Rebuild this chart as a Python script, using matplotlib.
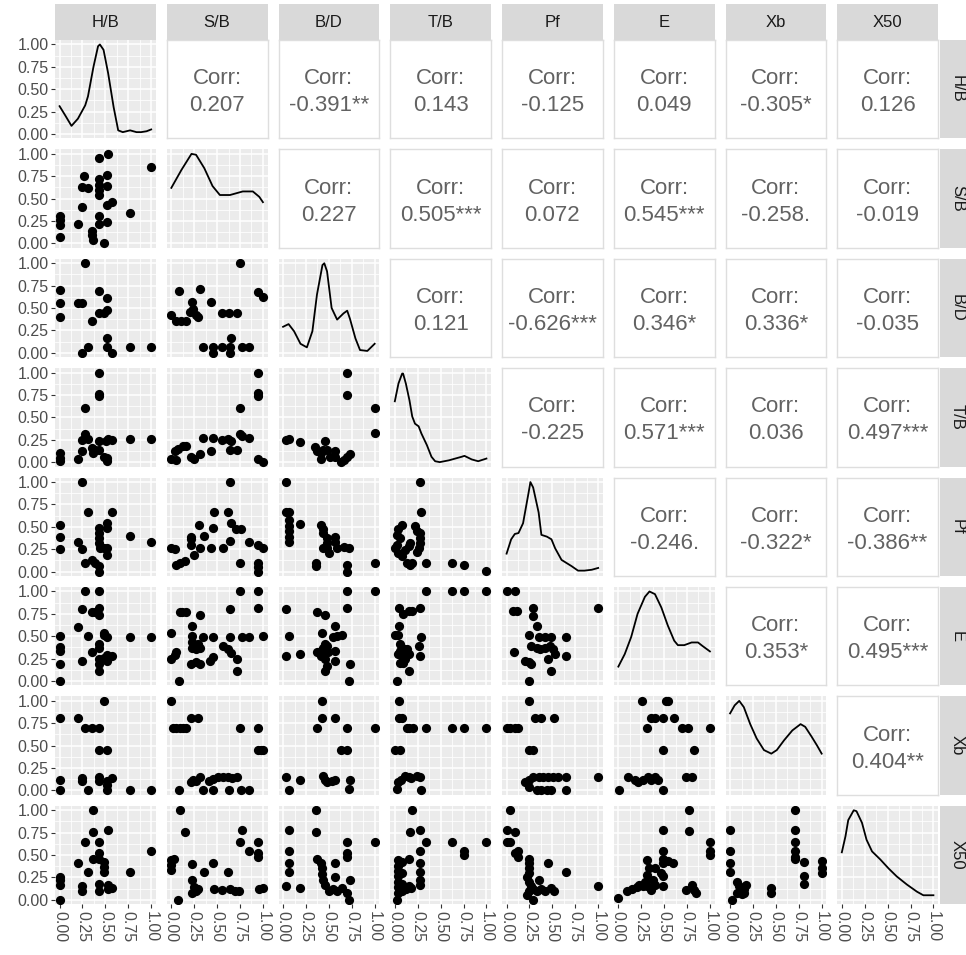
import numpy as np
import matplotlib.pyplot as plt
from matplotlib.ticker import FixedLocator

plt.rcParams['font.family'] = ['Liberation Sans', 'DejaVu Sans']

varNames = ["H/B", "S/B", "B/D", "T/B", "Pf", "E", "Xb", "X50"]
tickVals = [0.0, 0.25, 0.5, 0.75, 1.0]
tickLabels = ["0.00", "0.25", "0.50", "0.75", "1.00"]

# correlation labels, upper triangle, one list per row
corrRow0 = ["0.207", "-0.391**", "0.143", "-0.125", "0.049", "-0.305*", "0.126"]
corrRow1 = ["0.227", "0.505***", "0.072", "0.545***", "-0.258.", "-0.019"]
corrRow2 = ["0.121", "-0.626***", "0.346*", "0.336*", "-0.035"]
corrRow3 = ["-0.225", "0.571***", "0.036", "0.497***"]
corrRow4 = ["-0.246.", "-0.322*", "-0.386**"]
corrRow5 = ["0.353*", "0.495***"]
corrRow6 = ["0.404**"]

# density curves (x, scaled density)
dHB = [(0.0,0.31),(0.06,0.21),(0.13,0.09),(0.20,0.17),(0.28,0.32),(0.31,0.42),(0.37,0.75),(0.42,0.98),(0.44,1.0),
       (0.48,0.94),(0.53,0.68),(0.59,0.30),(0.64,0.04),(0.69,0.02),(0.77,0.04),(0.84,0.02),(0.89,0.02),(0.95,0.03),(1.0,0.05)]
dSB = [(0.0,0.62),(0.11,0.82),(0.22,1.0),(0.27,0.99),(0.36,0.84),(0.45,0.64),(0.53,0.54),(0.64,0.54),(0.78,0.58),
       (0.89,0.58),(0.96,0.52),(1.0,0.46)]
dBD = [(0.0,0.29),(0.06,0.32),(0.12,0.24),(0.19,0.10),(0.26,0.06),(0.32,0.24),(0.37,0.65),(0.43,0.98),(0.45,1.0),
       (0.48,0.91),(0.53,0.50),(0.59,0.37),(0.66,0.44),(0.70,0.47),(0.73,0.38),(0.79,0.16),(0.84,0.03),(0.92,0.02),
       (0.97,0.07),(1.0,0.10)]
dTB = [(0.0,0.68),(0.04,0.88),(0.08,0.99),(0.09,0.99),(0.12,0.88),(0.16,0.69),(0.19,0.51),(0.22,0.43),(0.26,0.40),
       (0.29,0.32),(0.35,0.19),(0.40,0.06),(0.44,0.01),(0.49,0.0),(0.59,0.02),(0.73,0.06),(0.76,0.07),(0.84,0.03),
       (0.91,0.01),(1.0,0.04)]
dPf = [(0.0,0.20),(0.05,0.36),(0.09,0.42),(0.13,0.43),(0.18,0.54),(0.24,0.88),(0.26,1.0),(0.29,0.94),(0.35,0.66),
       (0.38,0.41),(0.44,0.39),(0.49,0.36),(0.53,0.26),(0.60,0.13),(0.71,0.06),(0.78,0.01),(0.85,0.01),(0.93,0.02),(1.0,0.04)]
dE = [(0.0,0.16),(0.07,0.30),(0.14,0.49),(0.21,0.75),(0.29,0.94),(0.34,1.0),(0.40,0.97),(0.47,0.82),(0.54,0.62),
      (0.61,0.45),(0.65,0.40),(0.72,0.40),(0.80,0.43),(0.87,0.43),(0.92,0.39),(1.0,0.33)]
dXb = [(0.0,0.86),(0.05,0.95),(0.10,1.0),(0.15,0.93),(0.22,0.74),(0.29,0.58),(0.37,0.45),(0.45,0.41),(0.51,0.45),
       (0.59,0.56),(0.68,0.67),(0.77,0.74),(0.82,0.71),(0.89,0.60),(0.95,0.50),(1.0,0.41)]
dX50 = [(0.0,0.53),(0.04,0.71),(0.07,0.89),(0.13,1.0),(0.16,0.99),(0.22,0.86),(0.27,0.67),(0.33,0.54),(0.42,0.45),
        (0.51,0.35),(0.60,0.26),(0.71,0.17),(0.82,0.09),(0.89,0.05),(1.0,0.05)]

# scatter points (x = column variable, y = row variable)
pSB_HB = [(0.53,1.0),(0.43,0.95),(1.0,0.85),(0.27,0.75),(0.43,0.72),(0.52,0.76),(0.24,0.63),(0.31,0.62),(0.43,0.65),
          (0.43,0.60),(0.43,0.54),(0.52,0.64),(0.57,0.46),(0.52,0.43),(0.24,0.41),(0.77,0.34),(0.01,0.31),(0.01,0.26),
          (0.01,0.21),(0.20,0.22),(0.43,0.31),(0.43,0.22),(0.52,0.24),(0.35,0.14),(0.35,0.09),(0.36,0.04),(0.01,0.07),(0.49,0.0)]
pBD_HB = [(0.28,1.0),(0.01,0.70),(0.01,0.56),(0.01,0.40),(0.20,0.56),(0.24,0.56),(0.43,0.69),(0.52,0.61),(0.52,0.48),
          (0.48,0.44),(0.35,0.36),(0.43,0.44),(0.52,0.17),(0.24,0.0),(0.31,0.06),(0.52,0.06),(0.57,0.0),(0.77,0.06),(1.0,0.06)]
pBD_SB = [(0.75,1.0),(0.08,0.69),(0.31,0.71),(0.23,0.57),(0.43,0.57),(0.0,0.42),(0.05,0.36),(0.11,0.36),(0.16,0.36),
          (0.20,0.46),(0.24,0.49),(0.27,0.42),(0.29,0.40),(0.55,0.44),(0.63,0.44),(0.72,0.44),(0.95,0.68),(1.0,0.62),
          (0.35,0.06),(0.45,0.06),(0.46,0.0),(0.55,0.06),(0.64,0.06),(0.64,0.0),(0.65,0.17),(0.77,0.06),(0.85,0.06)]
pTB_HB = [(0.43,1.0),(0.43,0.76),(0.43,0.74),(0.28,0.61),(0.28,0.32),(0.24,0.25),(0.31,0.26),(0.43,0.24),(0.53,0.26),
          (0.57,0.25),(0.51,0.24),(0.77,0.26),(1.0,0.26),(0.24,0.12),(0.35,0.16),(0.39,0.13),(0.37,0.10),(0.43,0.13),
          (0.48,0.06),(0.52,0.01),(0.52,0.05),(0.20,0.04),(0.01,0.10),(0.01,0.05),(0.01,0.01)]
pTB_SB = [(0.95,1.0),(0.95,0.77),(0.95,0.74),(0.75,0.61),(0.0,0.04),(0.05,0.02),(0.04,0.12),(0.07,0.15),(0.13,0.18),
          (0.16,0.18),(0.22,0.06),(0.25,0.04),(0.31,0.09),(0.43,0.12),(0.35,0.27),(0.46,0.27),(0.55,0.25),(0.62,0.26),
          (0.65,0.24),(0.64,0.14),(0.72,0.14),(0.75,0.32),(0.77,0.29),(0.85,0.27),(0.95,0.04),(1.0,0.0)]
pTB_BD = [(0.70,1.0),(0.70,0.75),(1.0,0.61),(1.0,0.33),(0.03,0.25),(0.07,0.26),(0.19,0.22),(0.35,0.17),(0.37,0.12),
          (0.41,0.10),(0.41,0.04),(0.46,0.24),(0.44,0.13),(0.48,0.13),(0.51,0.06),(0.57,0.12),(0.57,0.06),(0.63,0.0),
          (0.66,0.02),(0.70,0.06),(0.73,0.09)]
pPf_HB = [(0.24,1.0),(0.31,0.66),(0.57,0.66),(0.52,0.54),(0.52,0.49),(0.43,0.49),(0.43,0.43),(0.43,0.37),(0.43,0.32),
          (0.44,0.26),(0.01,0.52),(0.01,0.39),(0.01,0.25),(0.20,0.33),(0.24,0.25),(0.77,0.40),(1.0,0.33),(0.48,0.26),
          (0.52,0.26),(0.52,0.19),(0.28,0.09),(0.35,0.13),(0.39,0.09),(0.43,0.06),(0.43,0.0)]
pPf_SB = [(0.64,1.0),(0.47,0.66),(0.62,0.66),(0.65,0.54),(0.71,0.48),(0.76,0.47),(0.30,0.52),(0.45,0.49),(0.36,0.40),
          (0.22,0.39),(0.22,0.36),(0.22,0.30),(0.25,0.19),(0.0,0.26),(0.04,0.25),(0.05,0.07),(0.09,0.09),(0.15,0.12),
          (0.31,0.26),(0.43,0.26),(0.56,0.26),(0.64,0.34),(0.85,0.33),(0.75,0.09),(0.95,0.30),(1.0,0.26),(0.95,0.09),
          (0.95,0.05),(0.95,0.0)]
pPf_BD = [(0.03,1.0),(0.03,0.66),(0.06,0.66),(0.06,0.58),(0.06,0.51),(0.06,0.45),(0.06,0.39),(0.06,0.33),(0.19,0.53),
          (0.41,0.52),(0.44,0.48),(0.44,0.43),(0.48,0.37),(0.48,0.32),(0.48,0.26),(0.57,0.39),(0.57,0.33),(0.44,0.26),
          (0.50,0.21),(0.59,0.26),(0.66,0.27),(0.72,0.26),(0.36,0.09),(0.36,0.06),(0.70,0.07),(0.70,0.0),(1.0,0.09)]
pPf_TB = [(0.27,1.0),(0.29,0.66),(0.08,0.52),(0.04,0.47),(0.02,0.41),(0.06,0.37),(0.02,0.30),(0.0,0.26),(0.04,0.21),
          (0.08,0.17),(0.11,0.24),(0.15,0.28),(0.17,0.32),(0.22,0.51),(0.24,0.45),(0.28,0.43),(0.28,0.37),(0.28,0.32),
          (0.26,0.26),(0.24,0.22),(0.13,0.09),(0.17,0.07),(0.19,0.10),(0.34,0.09),(0.62,0.09),(0.76,0.07),(1.0,0.01)]
pE_HB = [(0.28,1.0),(0.43,1.0),(0.24,0.80),(0.35,0.77),(0.39,0.77),(0.43,0.82),(0.43,0.74),(0.20,0.60),(0.31,0.50),
         (0.48,0.54),(0.49,0.51),(0.52,0.49),(0.01,0.50),(0.01,0.38),(0.01,0.34),(0.77,0.49),(1.0,0.49),(0.43,0.41),
         (0.43,0.37),(0.35,0.32),(0.24,0.22),(0.43,0.25),(0.48,0.26),(0.52,0.29),(0.57,0.28),(0.52,0.22),(0.43,0.19),
         (0.43,0.11),(0.01,0.19),(0.01,0.0)]
pE_SB = [(0.75,1.0),(0.95,1.0),(0.95,0.82),(0.64,0.80),(0.09,0.77),(0.12,0.77),(0.16,0.77),(0.31,0.74),(0.23,0.61),
         (0.0,0.54),(0.23,0.50),(0.23,0.43),(0.23,0.37),(0.27,0.36),(0.29,0.41),(0.31,0.37),(0.35,0.49),(0.45,0.49),
         (0.64,0.49),(0.77,0.49),(0.85,0.49),(1.0,0.50),(0.56,0.39),(0.62,0.36),(0.65,0.31),(0.72,0.24),(0.45,0.27),
         (0.42,0.22),(0.05,0.32),(0.04,0.29),(0.0,0.25),(0.22,0.19),(0.27,0.21),(0.31,0.19),(0.72,0.11),(0.08,0.0)]
pE_BD = [(0.70,1.0),(1.0,1.0),(0.70,0.82),(0.03,0.80),(0.37,0.77),(0.46,0.74),(0.57,0.61),(0.43,0.54),(0.55,0.49),
         (0.59,0.50),(0.64,0.51),(0.07,0.50),(0.46,0.41),(0.44,0.37),(0.48,0.39),(0.41,0.34),(0.44,0.31),(0.49,0.32),
         (0.57,0.34),(0.03,0.28),(0.19,0.30),(0.37,0.32),(0.41,0.28),(0.46,0.24),(0.48,0.17),(0.46,0.11),(0.57,0.22),
         (0.73,0.19),(0.72,0.0)]
pE_TB = [(0.34,1.0),(0.62,1.0),(0.76,1.0),(1.0,1.0),(0.05,0.82),(0.09,0.75),(0.15,0.78),(0.19,0.78),(0.27,0.82),
         (0.05,0.61),(0.0,0.51),(0.04,0.51),(0.29,0.49),(0.06,0.41),(0.08,0.37),(0.10,0.36),(0.06,0.34),(0.04,0.30),
         (0.08,0.28),(0.11,0.32),(0.13,0.36),(0.15,0.30),(0.11,0.24),(0.09,0.20),(0.06,0.20),(0.15,0.11),(0.26,0.39),
         (0.28,0.28),(0.02,0.0)]
pE_Pf = [(0.0,1.0),(0.09,1.0),(0.07,0.78),(0.11,0.78),(0.29,0.82),(0.29,0.73),(0.33,0.61),(1.0,0.81),(0.25,0.51),
         (0.35,0.49),(0.42,0.49),(0.49,0.49),(0.65,0.49),(0.27,0.39),(0.33,0.37),(0.36,0.36),(0.42,0.37),(0.47,0.39),
         (0.51,0.36),(0.53,0.30),(0.08,0.32),(0.65,0.28),(0.20,0.22),(0.24,0.21),(0.27,0.19),(0.45,0.24),(0.49,0.11),(0.25,0.0)]
pXb_HB = [(0.49,1.0),(0.01,0.81),(0.20,0.81),(0.28,0.70),(0.35,0.70),(0.43,0.70),(0.43,0.45),(0.52,0.45),(0.01,0.12),
          (0.01,0.0),(0.24,0.14),(0.24,0.10),(0.31,0.0),(0.43,0.15),(0.43,0.10),(0.52,0.10),(0.57,0.14),(0.52,0.06),
          (0.52,0.0),(0.77,0.0),(1.0,0.0)]
pXb_SB = [(0.0,1.0),(0.22,0.81),(0.29,0.81),(0.02,0.70),(0.05,0.70),(0.09,0.70),(0.13,0.70),(0.16,0.70),(0.75,0.70),
          (0.95,0.70),(0.95,0.45),(0.98,0.45),(1.0,0.45),(0.08,0.0),(0.22,0.09),(0.24,0.12),(0.27,0.10),(0.31,0.15),
          (0.35,0.0),(0.45,0.0),(0.41,0.10),(0.45,0.13),(0.51,0.15),(0.56,0.15),(0.62,0.15),(0.66,0.14),(0.72,0.15),
          (0.63,0.0),(0.76,0.0),(0.85,0.0)]
pXb_BD = [(0.43,1.0),(0.43,0.81),(0.57,0.81),(0.37,0.70),(0.70,0.70),(1.0,0.70),(0.63,0.45),(0.70,0.45),(0.03,0.15),
          (0.19,0.11),(0.07,0.0),(0.44,0.16),(0.46,0.12),(0.48,0.09),(0.53,0.10),(0.57,0.12),(0.73,0.11),(0.72,0.01)]
pXb_TB = [(0.05,1.0),(0.05,0.81),(0.08,0.81),(0.13,0.70),(0.15,0.70),(0.20,0.70),(0.34,0.70),(0.62,0.70),(0.76,0.70),
          (1.0,0.70),(0.0,0.45),(0.06,0.45),(0.02,0.01),(0.04,0.09),(0.07,0.12),(0.11,0.16),(0.15,0.15),(0.18,0.14),
          (0.24,0.16),(0.27,0.15),(0.29,0.0)]
pXb_Pf = [(0.25,1.0),(0.31,0.81),(0.38,0.81),(0.52,0.81),(0.0,0.70),(0.04,0.70),(0.09,0.70),(0.13,0.70),(0.24,0.45),
          (0.29,0.45),(0.65,0.15),(1.0,0.15),(0.20,0.09),(0.24,0.12),(0.29,0.15),(0.35,0.15),(0.40,0.15),(0.45,0.15),
          (0.51,0.15),(0.56,0.15),(0.25,0.04),(0.33,0.0),(0.38,0.0),(0.44,0.0),(0.49,0.0),(0.65,0.0)]
pXb_E = [(0.26,1.0),(0.52,1.0),(0.54,1.0),(0.36,0.81),(0.40,0.81),(0.49,0.81),(0.61,0.81),(0.31,0.70),(0.69,0.70),
         (0.76,0.70),(1.0,0.70),(0.49,0.45),(0.83,0.45),(0.01,0.0),(0.11,0.15),(0.18,0.12),(0.22,0.09),(0.27,0.12),
         (0.32,0.15),(0.36,0.12),(0.40,0.15),(0.43,0.12),(0.49,0.0),(0.74,0.15),(0.80,0.15)]
pX50_HB = [(0.36,1.0),(0.36,0.76),(0.53,0.78),(0.28,0.65),(0.43,0.65),(0.43,0.52),(0.36,0.46),(0.43,0.46),(0.49,0.42),
           (0.49,0.37),(0.49,0.31),(1.0,0.55),(0.20,0.41),(0.31,0.31),(0.77,0.31),(0.01,0.25),(0.01,0.22),(0.01,0.16),
           (0.24,0.15),(0.24,0.10),(0.43,0.18),(0.43,0.10),(0.53,0.16),(0.53,0.12),(0.57,0.13),(0.01,0.0)]
pX50_SB = [(0.10,1.0),(0.15,0.76),(0.77,0.78),(0.75,0.65),(0.95,0.65),(0.85,0.55),(0.95,0.52),(0.95,0.48),(0.0,0.44),
           (0.0,0.39),(0.0,0.33),(0.03,0.46),(0.23,0.40),(0.45,0.41),(0.36,0.31),(0.62,0.31),(0.23,0.22),(0.25,0.14),
           (0.27,0.10),(0.23,0.07),(0.29,0.12),(0.07,0.0),(0.47,0.12),(0.55,0.11),(0.64,0.12),(0.69,0.10),(0.74,0.10),
           (0.96,0.12),(1.0,0.13)]
pX50_BD = [(0.36,1.0),(0.06,0.78),(0.36,0.76),(0.70,0.65),(1.0,0.65),(0.06,0.55),(0.06,0.41),(0.06,0.31),(0.70,0.52),
           (0.70,0.48),(0.03,0.15),(0.19,0.13),(0.37,0.46),(0.41,0.41),(0.43,0.35),(0.43,0.29),(0.44,0.22),(0.46,0.16),
           (0.50,0.10),(0.55,0.12),(0.59,0.10),(0.64,0.13),(0.70,0.07),(0.72,0.0),(0.57,0.41),(0.57,0.25),(0.73,0.22)]
pX50_TB = [(0.19,1.0),(0.17,0.76),(0.28,0.78),(0.34,0.65),(0.62,0.65),(1.0,0.65),(0.76,0.55),(0.76,0.50),(0.28,0.54),
           (0.28,0.41),(0.28,0.31),(0.28,0.22),(0.27,0.16),(0.15,0.46),(0.04,0.44),(0.04,0.38),(0.04,0.32),(0.04,0.26),
           (0.04,0.20),(0.04,0.14),(0.04,0.08),(0.08,0.42),(0.08,0.30),(0.08,0.18),(0.08,0.10),(0.12,0.12),(0.15,0.15),
           (0.18,0.13),(0.02,0.0)]
pX50_Pf = [(0.04,1.0),(0.0,0.78),(0.09,0.76),(0.0,0.65),(0.04,0.65),(0.13,0.55),(0.09,0.52),(0.13,0.48),(0.25,0.46),
           (0.25,0.41),(0.24,0.35),(0.25,0.30),(0.22,0.25),(0.24,0.20),(0.27,0.15),(0.25,0.10),(0.22,0.05),(0.29,0.12),
           (0.33,0.10),(0.38,0.12),(0.42,0.10),(0.49,0.13),(0.52,0.10),(0.65,0.31),(0.45,0.41),(0.35,0.22),(1.0,0.15),(0.29,0.0)]
pX50_E = [(0.77,1.0),(0.77,0.77),(0.49,0.78),(1.0,0.65),(1.0,0.54),(1.0,0.50),(0.49,0.54),(0.49,0.46),(0.49,0.41),
          (0.54,0.43),(0.60,0.41),(0.47,0.30),(0.49,0.26),(0.49,0.15),(0.31,0.44),(0.34,0.35),(0.40,0.35),(0.31,0.28),
          (0.29,0.20),(0.38,0.22),(0.40,0.17),(0.31,0.15),(0.36,0.11),(0.27,0.15),(0.23,0.16),(0.74,0.11),(0.80,0.16),
          (0.83,0.11),(0.85,0.07),(0.0,0.02),(0.10,0.10),(0.15,0.12),(0.20,0.14)]
pX50_Xb = [(0.0,0.78),(0.0,0.54),(0.0,0.41),(0.0,0.31),(0.02,0.0),(0.08,0.20),(0.10,0.15),(0.12,0.10),(0.13,0.06),
           (0.15,0.12),(0.17,0.16),(0.08,0.07),(0.15,0.08),(0.45,0.13),(0.45,0.08),(0.71,1.0),(0.71,0.78),(0.71,0.65),
           (0.71,0.54),(0.71,0.48),(0.71,0.45),(0.81,0.42),(0.81,0.26),(0.81,0.18),(1.0,0.43),(1.0,0.35),(1.0,0.30)]


densities = [dHB, dSB, dBD, dTB, dPf, dE, dXb, dX50]
corrRows = [corrRow0, corrRow1, corrRow2, corrRow3, corrRow4, corrRow5, corrRow6]
scatterPts = {
  (1,0): pSB_HB,
  (2,0): pBD_HB, (2,1): pBD_SB,
  (3,0): pTB_HB, (3,1): pTB_SB, (3,2): pTB_BD,
  (4,0): pPf_HB, (4,1): pPf_SB, (4,2): pPf_BD, (4,3): pPf_TB,
  (5,0): pE_HB, (5,1): pE_SB, (5,2): pE_BD, (5,3): pE_TB, (5,4): pE_Pf,
  (6,0): pXb_HB, (6,1): pXb_SB, (6,2): pXb_BD, (6,3): pXb_TB, (6,4): pXb_Pf, (6,5): pXb_E,
  (7,0): pX50_HB, (7,1): pX50_SB, (7,2): pX50_BD, (7,3): pX50_TB, (7,4): pX50_Pf, (7,5): pX50_E, (7,6): pX50_Xb,
}

W, H = 966, 955
panelLeft, panelTop = 55, 40
panelW, panelH = 100.75, 98.4
stepX, stepY = 111.75, 109.4

fig = plt.figure(figsize=(W/100, H/100), dpi=100)
fig.set_facecolor('white')


def pxAxes(left, top, width, height):
  return fig.add_axes([left/W, 1-(top+height)/H, width/W, height/H])


def greyPanel(ax, r, c):
  ax.set_facecolor('#EBEBEB')
  for s in ax.spines.values():
    s.set_visible(False)
  ax.set_xlim(-0.05, 1.05)
  ax.set_ylim(-0.05, 1.05)
  ax.xaxis.set_major_locator(FixedLocator(tickVals))
  ax.yaxis.set_major_locator(FixedLocator(tickVals))
  ax.xaxis.set_minor_locator(FixedLocator([0.125, 0.375, 0.625, 0.875]))
  ax.yaxis.set_minor_locator(FixedLocator([0.125, 0.375, 0.625, 0.875]))
  ax.set_axisbelow(True)
  ax.grid(which='major', color='white', lw=1.1)
  ax.grid(which='minor', color='white', lw=0.55)
  ax.tick_params(which='minor', length=0)
  styleTicks(ax, r, c)


def styleTicks(ax, r, c):
  ax.tick_params(which='major', colors='#333333', labelcolor='#4D4D4D', labelsize=11.5,
                 length=2.75, width=0.8, pad=2)
  if c == 0:
    ax.set_yticks(tickVals)
    ax.set_yticklabels(tickLabels)
  else:
    ax.tick_params(axis='y', left=False, labelleft=False)
  if r == 7:
    ax.set_xticks(tickVals)
    ax.set_xticklabels(tickLabels, rotation=-90)
  else:
    ax.tick_params(axis='x', bottom=False, labelbottom=False)


for r in range(8):
  for c in range(8):
    ax = pxAxes(panelLeft+c*stepX, panelTop+r*stepY, panelW, panelH)
    if r < c:
      ax.set_facecolor('white')
      for s in ax.spines.values():
        s.set_color('#DEDEDE')
        s.set_linewidth(1.0)
      ax.set_xticks([])
      ax.set_yticks([])
      ax.text(0.5, 0.47, "Corr:\n"+corrRows[r][c-r-1], ha='center', va='center', fontsize=16,
              color='#626262', linespacing=1.38, transform=ax.transAxes)
    elif r == c:
      greyPanel(ax, r, c)
      xs, ys = zip(*densities[r])
      ax.plot(xs, ys, color='black', lw=1.3)
    else:
      greyPanel(ax, r, c)
      xs, ys = zip(*scatterPts[(r, c)])
      ax.scatter(xs, ys, s=44, color='black', linewidths=0, zorder=3)

# strips on top and on the right
for c in range(8):
  sax = pxAxes(panelLeft+c*stepX, 4, panelW, 36)
  sax.set_facecolor('#D9D9D9')
  sax.set_xticks([]); sax.set_yticks([])
  for s in sax.spines.values():
    s.set_visible(False)
  sax.text(0.5, 0.5, varNames[c], ha='center', va='center', fontsize=12, color='#1A1A1A',
           transform=sax.transAxes)

for r in range(8):
  sax = pxAxes(939.5, panelTop+r*stepY, 36, panelH)
  sax.set_facecolor('#D9D9D9')
  sax.set_xticks([]); sax.set_yticks([])
  for s in sax.spines.values():
    s.set_visible(False)
  sax.text(0.5, 0.5, varNames[r], ha='center', va='center', fontsize=12, color='#1A1A1A',
           rotation=-90, transform=sax.transAxes)

fig.savefig("out.png", dpi=100, facecolor=fig.get_facecolor())
